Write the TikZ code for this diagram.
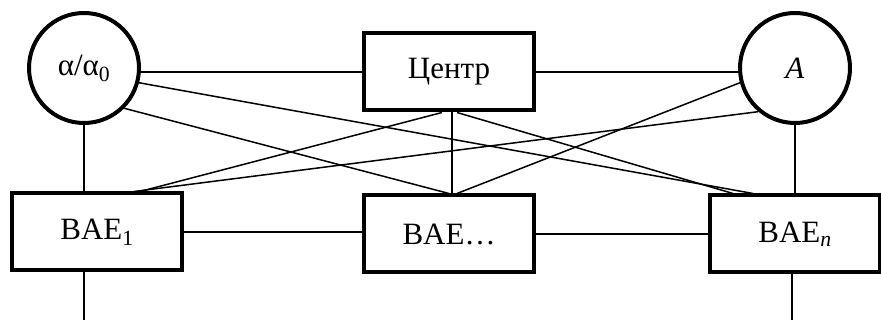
\documentclass[tikz,border=0pt]{standalone}
\usepackage{fontspec}
\setmainfont{Liberation Serif}
\usetikzlibrary{calc}
\begin{document}
\begin{tikzpicture}[x=1pt,y=-1pt,
  thin line/.style={line width=1.5pt},
  circ/.style={circle,draw,line width=4pt,minimum size=110pt,inner sep=0pt,font=\fontsize{31}{35}\selectfont},
  boxnode/.style={rectangle,draw,line width=4pt,minimum width=170pt,minimum height=77pt,inner sep=0pt,font=\fontsize{31}{35}\selectfont}]
\useasboundingbox (0,0) rectangle (881,320);
\node[circ] (alpha) at (84,68) {α/α\textsubscript{0}};
\node[circ] (A) at (795,68) {\textit{A}};
\node[boxnode] (center) at (449,72) {Центр};
\node[boxnode] (bae1) at (97,232) {BAE\textsubscript{1}};
\node[boxnode] (baem) at (449,234) {BAE…};
\node[boxnode] (baen) at (795,234) {BAE\textsubscript{\textit{n}}};
\coordinate (o1) at (84,320);
\coordinate (on) at (792,320);
\begin{scope}[thin line]
\draw (center.west) -- (center.west -| alpha.east);
\draw (center.east) -- (center.east -| A.west);
\draw (alpha.south) -- (alpha.south |- bae1.north);
\draw (A.south) -- (A.south |- baen.north);
\draw ($(center.south)+(3,0)$) -- ($(baem.north)+(3,0)$);
\draw (bae1.east) -- (bae1.east -| baem.west);
\draw (baem.east) -- (baem.east -| baen.west);
\draw (o1 |- bae1.south) -- (o1);
\draw (on |- baen.south) -- (on);
% diagonals
\draw ($(bae1.north)+(37,0)$) -- (A.230);
\draw ($(bae1.north)+(43,0)$) -- ($(center.south)+(-7,0)$);
\draw (alpha.-15) -- ($(baen.north)+(-42,0)$);
\draw (alpha.-45) -- ($(baem.north)+(0,0)$);
\draw ($(center.south)+(8,0)$) -- ($(baen.north)+(-62,0)$);
\draw (A.195) -- ($(baem.north)+(8,0)$);
\end{scope}
\end{tikzpicture}
\end{document}
